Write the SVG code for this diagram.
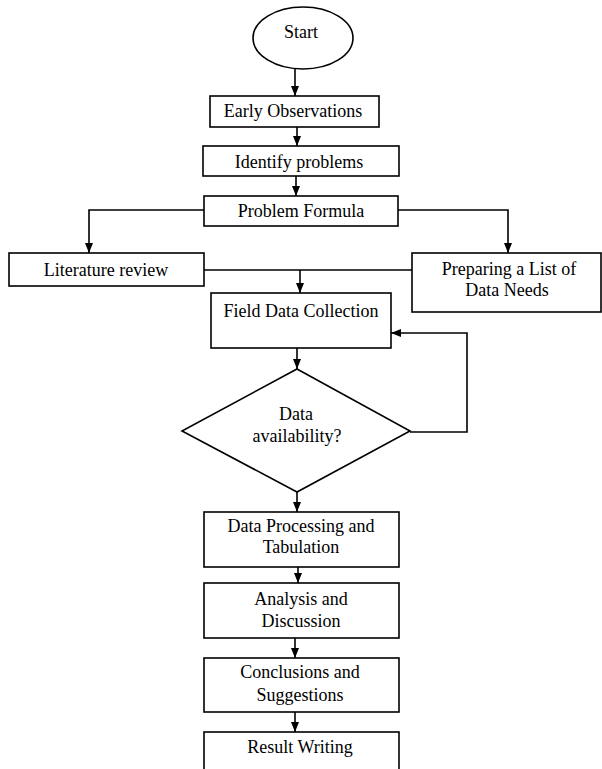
<svg xmlns="http://www.w3.org/2000/svg" width="602" height="769" viewBox="0 0 602 769">
<style>
.box{fill:#fff;stroke:#000;stroke-width:1.6}
.t{font-family:"Liberation Serif","Times New Roman",serif;font-size:18px;fill:#000;text-anchor:middle}
.c{fill:none;stroke:#000;stroke-width:1.6}
</style>
<defs>
<marker id="ah" markerUnits="userSpaceOnUse" markerWidth="10" markerHeight="10" viewBox="0 0 10 10" refX="10" refY="5" orient="auto">
<path d="M0,1 L10,5 L0,9 Z" fill="#000"/>
</marker>
</defs>
<rect width="602" height="769" fill="#fff"/>
<g id="connectors">
<path class="c" d="M295,69 V96" marker-end="url(#ah)"/>
<path class="c" d="M297,127 V146" marker-end="url(#ah)"/>
<path class="c" d="M296,176 V196" marker-end="url(#ah)"/>
<path class="c" d="M204,210 H89 V253" marker-end="url(#ah)"/>
<path class="c" d="M398,210 H508 V253" marker-end="url(#ah)"/>
<path class="c" d="M204,270 H412"/>
<path class="c" d="M300,270 V293" marker-end="url(#ah)"/>
<path class="c" d="M297,348 V369" marker-end="url(#ah)"/>
<path class="c" d="M410,432 H467 V333 H391" marker-end="url(#ah)"/>
<path class="c" d="M297,492 V512" marker-end="url(#ah)"/>
<path class="c" d="M298,567 V583" marker-end="url(#ah)"/>
<path class="c" d="M295,638 V658" marker-end="url(#ah)"/>
<path class="c" d="M295,712 V732" marker-end="url(#ah)"/>
</g>
<g id="start"><ellipse class="box" cx="303" cy="38" rx="50" ry="31"/><text class="t" x="301" y="38">Start</text></g>
<g id="early"><rect class="box" x="210" y="96" width="169" height="31"/><text class="t" x="293" y="117">Early Observations</text></g>
<g id="identify"><rect class="box" x="203" y="146" width="196" height="30"/><text class="t" x="299" y="168">Identify problems</text></g>
<g id="formula"><rect class="box" x="204" y="196" width="194" height="30"/><text class="t" x="301" y="217">Problem Formula</text></g>
<g id="literature"><rect class="box" x="9" y="253" width="195" height="33"/><text class="t" x="106" y="276">Literature review</text></g>
<g id="preparing"><rect class="box" x="412" y="253" width="189" height="59"/><text class="t" x="509" y="275">Preparing a List of</text><text class="t" x="507" y="296">Data Needs</text></g>
<g id="field"><rect class="box" x="211" y="293" width="180" height="55"/><text class="t" x="301" y="317">Field Data Collection</text></g>
<g id="availability"><polygon class="box" points="297,369 410,431 297,492 182,431"/><text class="t" x="296" y="420">Data</text><text class="t" x="297" y="442">availability?</text></g>
<g id="processing"><rect class="box" x="204" y="512" width="195" height="55"/><text class="t" x="301" y="532">Data Processing and</text><text class="t" x="301" y="553">Tabulation</text></g>
<g id="analysis"><rect class="box" x="204" y="583" width="195" height="55"/><text class="t" x="301" y="605">Analysis and</text><text class="t" x="301" y="627">Discussion</text></g>
<g id="conclusions"><rect class="box" x="204" y="658" width="195" height="54"/><text class="t" x="300" y="678">Conclusions and</text><text class="t" x="300" y="701">Suggestions</text></g>
<g id="result"><rect class="box" x="204" y="732" width="195" height="45"/><text class="t" x="300" y="753">Result Writing</text></g>
</svg>
